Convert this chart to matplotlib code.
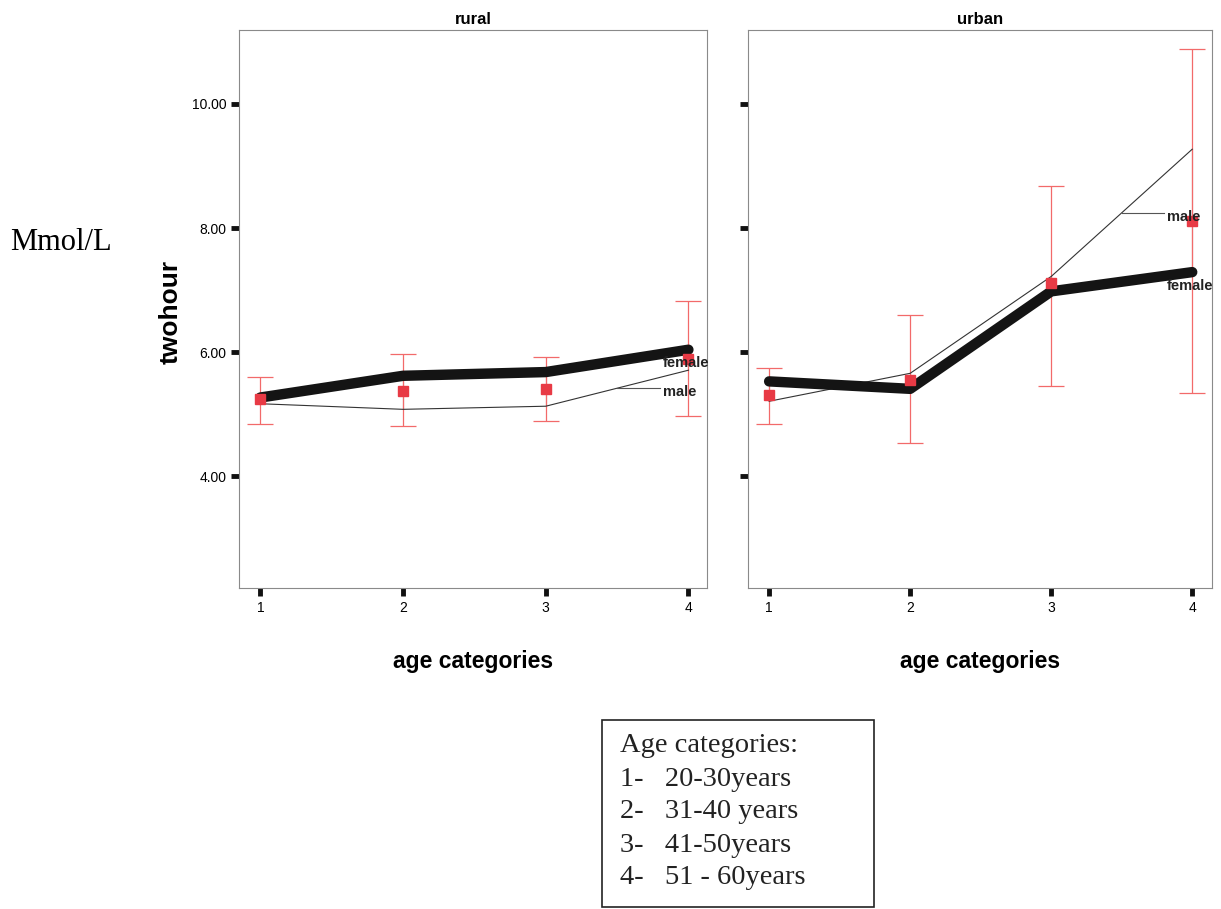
import matplotlib.pyplot as plt
from matplotlib.patches import Rectangle

# age category codes on the x axis
ages = [1, 2, 3, 4]
age_ticks = ["1", "2", "3", "4"]
y_ticks = [4.0, 6.0, 8.0, 10.0]

# rural panel
rural_female = [5.27, 5.62, 5.68, 6.04]
rural_male = [5.17, 5.08, 5.13, 5.71]
rural_mean = [5.24, 5.37, 5.41, 5.89]
rural_lo = [4.84, 4.81, 4.89, 4.97]
rural_hi = [5.60, 5.97, 5.92, 6.82]

# urban panel
urban_female = [5.53, 5.41, 6.98, 7.29]
urban_male = [5.21, 5.66, 7.22, 9.27]
urban_mean = [5.31, 5.56, 7.11, 8.11]
urban_lo = [4.85, 4.54, 5.46, 5.35]
urban_hi = [5.74, 6.60, 8.68, 10.88]

legend_lines = ["Age categories:", "1-   20-30years", "2-   31-40 years",
                "3-   41-50years", "4-   51 - 60years"]

plt.rcParams['font.family'] = ['Liberation Sans', 'DejaVu Sans']

fig = plt.figure(figsize=(12.21, 9.09), dpi=100)
ax_r = fig.add_axes([0.1957, 0.353, 0.3833, 0.614])
ax_u = fig.add_axes([0.6126, 0.353, 0.3800, 0.614], sharey=ax_r)


def draw_panel(ax, title, female, male, mean, lo, hi):
    # drop lines between the two groups
    for x, f, m in zip(ages, female, male):
        ax.plot([x, x], [f, m], color='#777777', lw=0.8, zorder=2)
    # error bars round the overall mean
    yerr = [[m - l for m, l in zip(mean, lo)], [h - m for m, h in zip(mean, hi)]]
    ax.errorbar(ages, mean, yerr=yerr, fmt='none', ecolor='#f26a6a', elinewidth=0.9,
                capsize=9.5, capthick=0.9, zorder=3)
    ax.plot(ages, male, color='#333333', lw=0.8, zorder=4)
    ax.plot(ages, female, color='#141414', lw=7.5, solid_capstyle='round',
            solid_joinstyle='round', zorder=5)
    ax.plot(ages, mean, 's', color='#e83a45', ms=7, zorder=6)

    # group labels at the right end
    ax.text(3.82, female[-1] - 0.22, "female", fontsize=10.5, fontweight='bold',
            color='#222222', ha='left', va='center', zorder=7)
    mid = (male[-2] + male[-1]) / 2
    ax.plot([3.5, 3.8], [mid, mid], color='#555555', lw=0.8, zorder=4)
    ax.text(3.82, mid - 0.06, "male", fontsize=10.5, fontweight='bold',
            color='#222222', ha='left', va='center', zorder=7)

    ax.set_title(title, fontsize=12, fontweight='bold', pad=4)
    ax.set_xticks(ages)
    ax.set_xticklabels(age_ticks)
    ax.set_yticks(y_ticks)
    ax.set_yticklabels([f"{v:.2f}" for v in y_ticks])
    ax.tick_params(length=6, width=3.5, color='#111111', labelsize=10, pad=3)
    for s in ax.spines.values():
        s.set_color('#8a8a8a')
        s.set_linewidth(0.8)


draw_panel(ax_r, "rural", rural_female, rural_male, rural_mean, rural_lo, rural_hi)
draw_panel(ax_u, "urban", urban_female, urban_male, urban_mean, urban_lo, urban_hi)

ax_r.set_xlim(0.85, 4.13)
ax_u.set_xlim(0.85, 4.14)
ax_r.set_ylim(2.2, 11.19)
ax_u.tick_params(labelleft=False)

fig.text(0.1395, 0.657, "twohour", rotation=90, fontsize=19, fontweight='bold',
         ha='center', va='center')
fig.text(0.3875, 0.272, "age categories", fontsize=16.5, fontweight='bold',
         ha='center', va='center')
fig.text(0.8026, 0.272, "age categories", fontsize=16.5, fontweight='bold',
         ha='center', va='center')
fig.text(0.008, 0.733, "Mmol/L", fontsize=22, family='Liberation Serif',
         ha='left', va='center')

# note box with the age groups
fig.patches.append(Rectangle((602 / 1221, 1 - 907 / 909), 272 / 1221, 187 / 909,
                             transform=fig.transFigure, fill=False,
                             edgecolor='#222222', lw=1.2))
for i, line in enumerate(legend_lines):
    fig.text(620 / 1221, 1 - (746 + 33 * i) / 909, line, fontsize=20.5,
             family='Liberation Serif', ha='left', va='center', color='#222222')

fig.savefig("out.png", dpi=100)
